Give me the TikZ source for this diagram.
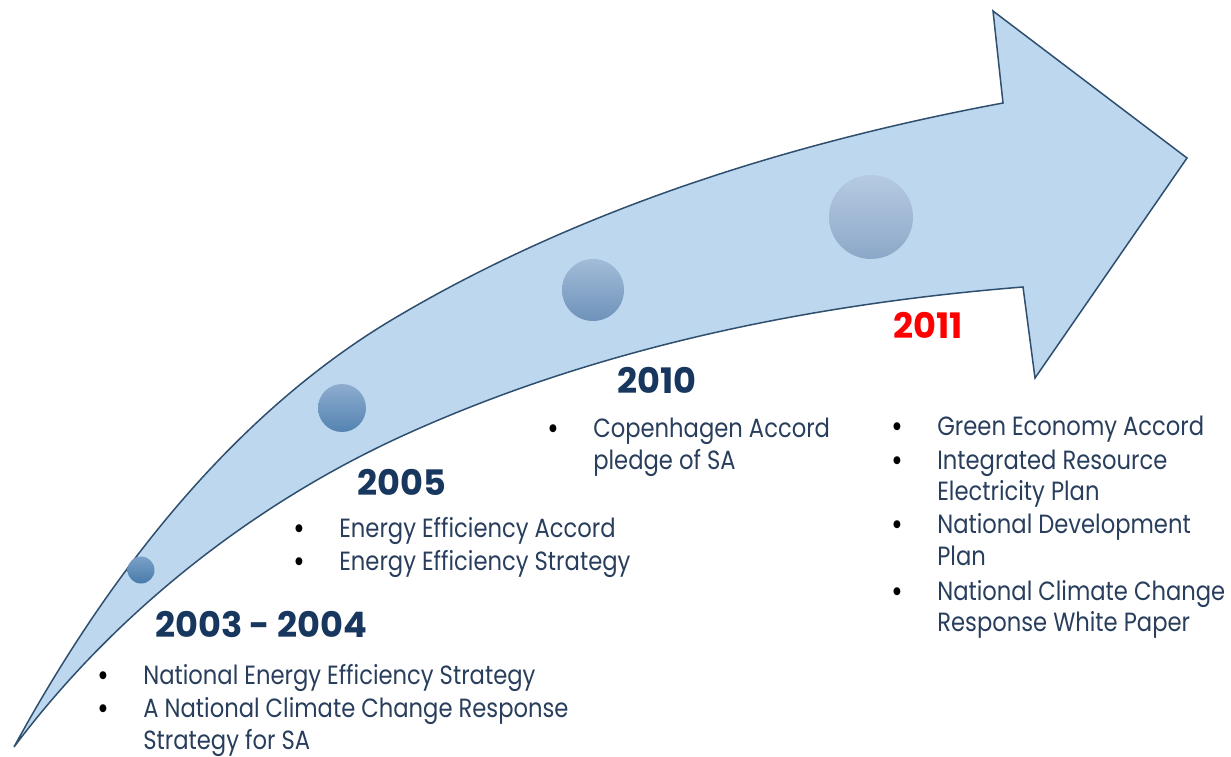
\documentclass[tikz,border=0pt]{standalone}
\usepackage{fontspec}
\setmainfont{Poppins}[FakeStretch=0.86]
\newfontfamily\yearfont{Poppins}
\newcommand{\bul}{\makebox[0.92cm][l]{\color{black}\bfseries\textbullet}}
\newcommand{\cont}{\hspace*{0.92cm}}
\begin{document}
\begin{tikzpicture}[x=0.02cm,y=-0.02cm,
    year/.style={anchor=base west,inner sep=0pt,font=\yearfont\bfseries\fontsize{20}{21}\selectfont,text=r23g55b94},
    items/.style={anchor=north west,inner sep=0pt,align=left,font=\fontsize{15}{17.9}\selectfont,text=r40g62b92},
    dot/.style={circle,inner sep=0pt,shade,draw=none}]
    % \clip (0,0) rectangle (1231,757);
    \useasboundingbox (0,0) rectangle (1231,757);

    % Changing color 189 215 238 / 47 79 111
    \definecolor{r189g215b238}{RGB}{189,215,238}%
    \definecolor{r47g79b111}{RGB}{47,79,111}%
    \definecolor{r23g55b94}{RGB}{23,55,94}%
    \definecolor{r40g62b92}{RGB}{40,62,92}%

    % Filling curved arrow, tail at bottom left
    \draw [line width=0.03cm,fill=r189g215b238,draw=r47g79b111,line join=miter]
        (14,747) .. controls (106,578) and (233,412) .. (400,315)
        .. controls (584,207) and (794,142) .. (1003,103)
        -- (993,11) -- (1187,158) -- (1035,378) -- (1023,287)
        .. controls (810,304) and (594,348) .. (400,437)
        .. controls (250,506) and (113,615) .. (14,747)
        -- cycle;%

    % Marking points along the arrow
    \node [dot,minimum size=0.54cm,top color={rgb,255:red,122;green,161;blue,201},bottom color={rgb,255:red,72;green,122;blue,170}] (d2003) at (141,570) {};
    \node [dot,minimum size=0.96cm,top color={rgb,255:red,142;green,172;blue,206},bottom color={rgb,255:red,84;green,132;blue,178}] (d2005) at (342,408) {};
    \node [dot,minimum size=1.24cm,top color={rgb,255:red,162;green,188;blue,216},bottom color={rgb,255:red,110;green,146;blue,186}] (d2010) at (593,290) {};
    \node [dot,minimum size=1.68cm,top color={rgb,255:red,182;green,202;blue,226},bottom color={rgb,255:red,140;green,168;blue,200}] (d2011) at (871,217) {};

    % Years
    \node [year] (y2003) at (155,637) {2003 - 2004};
    \node [year] (y2005) at (357,495) {2005};
    \node [year] (y2010) at (617,393) {2010};
    \node [year,text=red] (y2011) at (893,338) {2011};

    % Lists below each year
    \node [items] (l2003) at (97,664) {\bul National Energy Efficiency Strategy\\[1pt]
        \bul A National Climate Change Response\\
        \cont Strategy for SA};
    \node [items] (l2005) at (293,517) {\bul Energy Efficiency Accord\\[1pt]
        \bul Energy Efficiency Strategy};
    \node [items] (l2010) at (547,418) {\bul Copenhagen Accord\\
        \cont pledge of SA};
    \node [items] (l2011) at (891,416) {\bul Green Economy Accord\\[1pt]
        \bul Integrated Resource\\
        \cont Electricity Plan\\[1pt]
        \bul National Development\\
        \cont Plan\\[2pt]
        \bul National Climate Change\\
        \cont Response White Paper};
\end{tikzpicture}
\end{document}
